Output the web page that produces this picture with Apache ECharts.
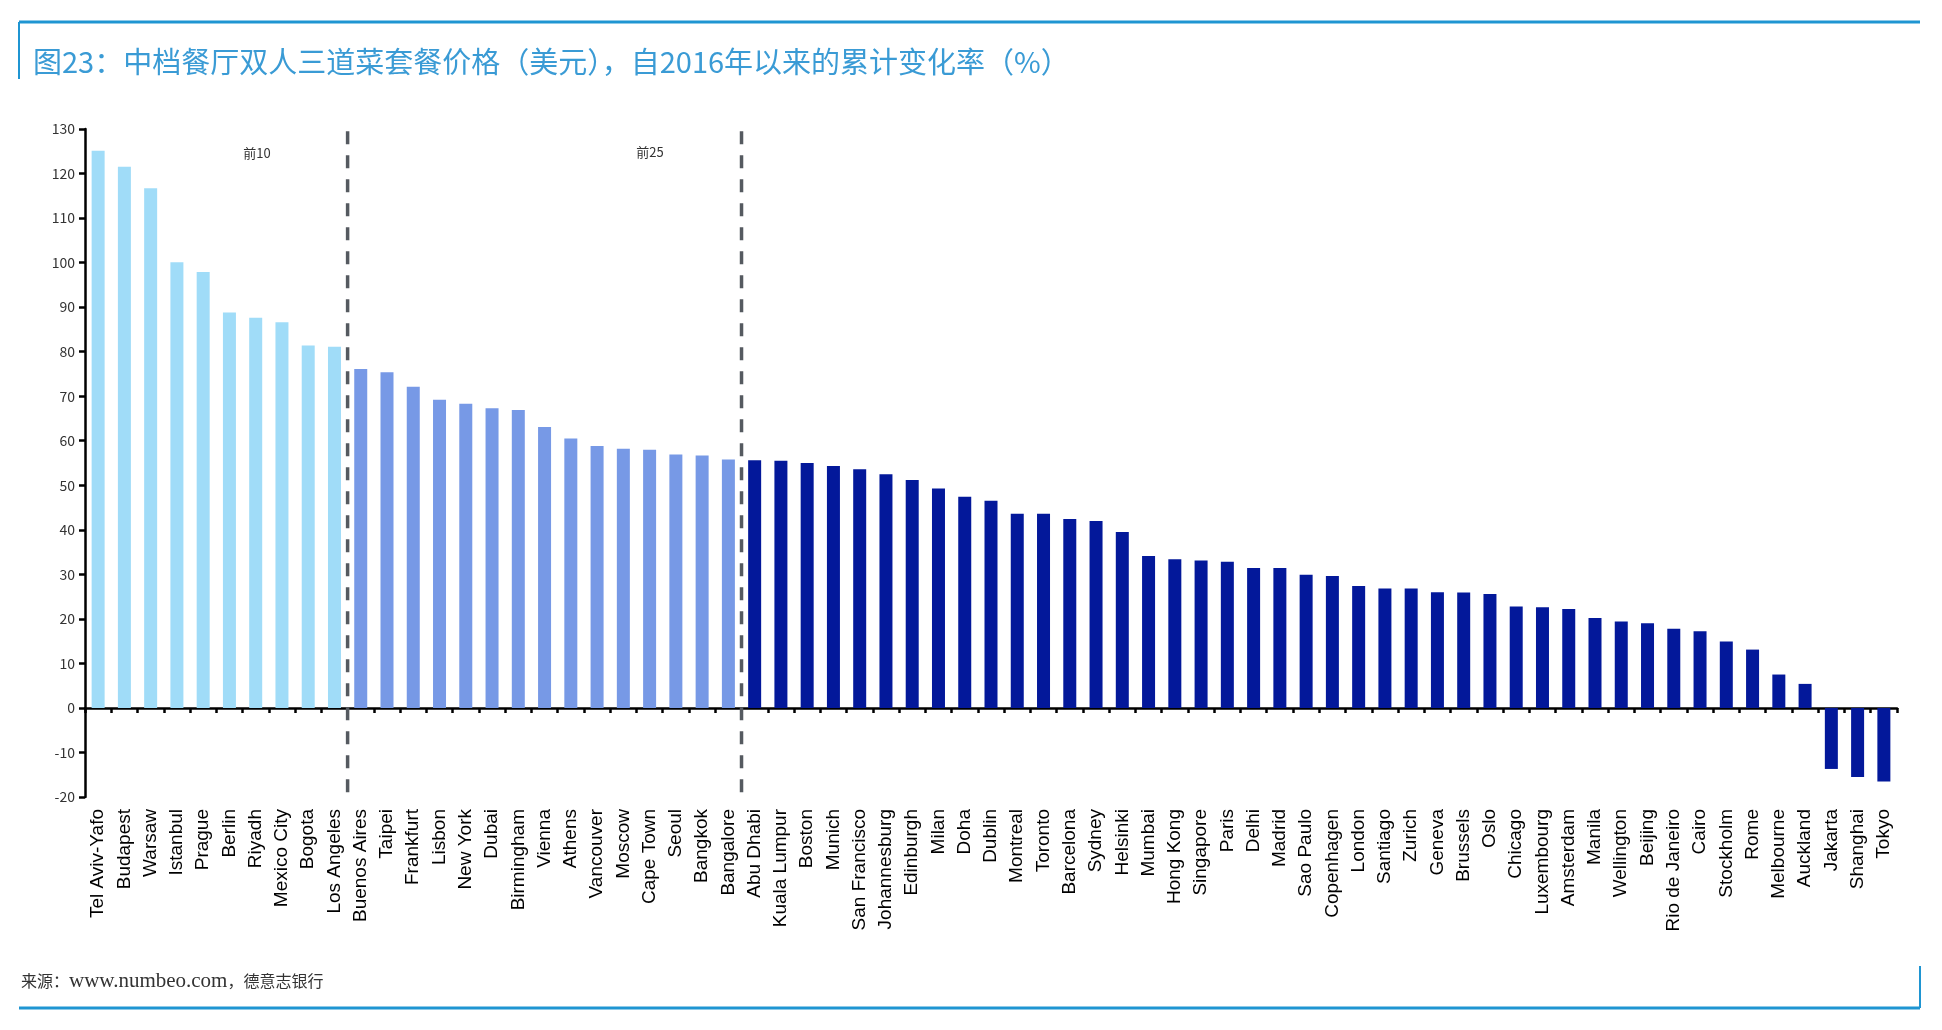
<!DOCTYPE html>
<html>
<head>
<meta charset="utf-8">
<title>中档餐厅双人三道菜套餐价格</title>
<script src="https://cdn.jsdelivr.net/npm/echarts@6/dist/echarts.min.js"></script>
<style>
  html, body { margin: 0; padding: 0; background: #fff; }
  #main { width: 1942px; height: 1030px; }
</style>
</head>
<body>
<div id="main"></div>
<script>
// 城市（按累计变化率从高到低）
var cities = ['Tel Aviv-Yafo', 'Budapest', 'Warsaw', 'Istanbul', 'Prague', 'Berlin', 'Riyadh', 'Mexico City', 'Bogota', 'Los Angeles',
    'Buenos Aires', 'Taipei', 'Frankfurt', 'Lisbon', 'New York', 'Dubai', 'Birmingham', 'Vienna', 'Athens', 'Vancouver',
    'Moscow', 'Cape Town', 'Seoul', 'Bangkok', 'Bangalore', 'Abu Dhabi', 'Kuala Lumpur', 'Boston', 'Munich', 'San Francisco',
    'Johannesburg', 'Edinburgh', 'Milan', 'Doha', 'Dublin', 'Montreal', 'Toronto', 'Barcelona', 'Sydney', 'Helsinki',
    'Mumbai', 'Hong Kong', 'Singapore', 'Paris', 'Delhi', 'Madrid', 'Sao Paulo', 'Copenhagen', 'London', 'Santiago',
    'Zurich', 'Geneva', 'Brussels', 'Oslo', 'Chicago', 'Luxembourg', 'Amsterdam', 'Manila', 'Wellington', 'Beijing',
    'Rio de Janeiro', 'Cairo', 'Stockholm', 'Rome', 'Melbourne', 'Auckland', 'Jakarta', 'Shanghai', 'Tokyo'];

// 自2016年以来的累计变化率（%）
var changes = [125.1, 121.5, 116.7, 100.1, 97.9, 88.8, 87.6, 86.6, 81.4, 81.1,
    76.1, 75.4, 72.1, 69.2, 68.3, 67.3, 66.9, 63.1, 60.5, 58.8,
    58.2, 58.0, 56.9, 56.7, 55.8, 55.6, 55.5, 55.0, 54.3, 53.6,
    52.5, 51.2, 49.3, 47.4, 46.5, 43.6, 43.6, 42.4, 42.0, 39.5,
    34.1, 33.4, 33.1, 32.8, 31.4, 31.4, 29.9, 29.6, 27.4, 26.8,
    26.8, 26.0, 25.9, 25.6, 22.8, 22.6, 22.2, 20.2, 19.4, 19.0,
    17.8, 17.2, 14.9, 13.1, 7.5, 5.4, -13.7, -15.5, -16.5];

// 分组：前10、前25、其余
var groupEnds = [10, 25];
var groupNames = ['前10', '前25'];
var groupColors = ['#a0dcf8', '#7799e6', '#03189a'];

// y轴刻度
var yMin = -20;
var yMax = 130;
var yStep = 10;

var lineBlue = '#1f95d2';

var myChart = echarts.init(document.getElementById('main'));

// 每根柱子按所在分组上色
var barData = [];
for (var i = 0; i < changes.length; i++) {
    var g = 0;
    while (g < groupEnds.length && i >= groupEnds[g]) g++;
    barData.push({ value: changes[i], itemStyle: { color: groupColors[g] } });
}

// 分组之间的虚线（从上往下画）
var dividers = [];
for (var k = 0; k < groupEnds.length; k++) {
    dividers.push({
        type: 'line',
        xAxisIndex: 2,
        yAxisIndex: 0,
        symbol: 'none',
        silent: true,
        clip: false,
        z: 5,
        lineStyle: { color: '#555a60', width: 3.5, type: [13, 11] },
        data: [[groupEnds[k], yMax - 0.5], [groupEnds[k], yMin - 1]]
    });
}

var option = {
    backgroundColor: '#fff',
    animation: false,
    grid: { left: 85, right: 45, top: 129, bottom: 233, containLabel: false },
    xAxis: [{
        type: 'category',
        data: cities,
        axisLine: { onZero: true, lineStyle: { color: '#000', width: 2.5 } },
        axisTick: { show: true, interval: 0, length: 5, lineStyle: { color: '#000', width: 2.5 } },
        axisLabel: { show: false }
    }, {
        type: 'category',
        data: cities,
        position: 'bottom',
        axisLine: { show: false, onZero: false },
        axisTick: { show: false },
        axisLabel: {
            interval: 0,
            rotate: 90,
            margin: 12,
            color: '#000',
            fontSize: 19,
            fontFamily: 'Liberation Sans, Arial, sans-serif'
        }
    }, {
        type: 'value',
        min: 0,
        max: cities.length,
        show: false
    }],
    yAxis: {
        type: 'value',
        min: yMin,
        max: yMax,
        interval: yStep,
        axisLine: { show: true, lineStyle: { color: '#000', width: 2.5 } },
        axisTick: { show: true, length: 6, lineStyle: { color: '#000', width: 2.5 } },
        splitLine: { show: false },
        axisLabel: {
            margin: 10,
            color: '#333',
            fontSize: 14,
            fontFamily: 'Noto Sans CJK SC, sans-serif'
        }
    },
    series: [{
        type: 'bar',
        name: '累计变化率',
        xAxisIndex: 0,
        barWidth: 13,
        data: barData
    }].concat(dividers),
    graphic: [
        // 上边框
        { type: 'line', shape: { x1: 19, y1: 22, x2: 1920, y2: 22 }, style: { stroke: lineBlue, lineWidth: 3 } },
        { type: 'line', shape: { x1: 19, y1: 22, x2: 19, y2: 79 }, style: { stroke: lineBlue, lineWidth: 2 } },
        // 下边框
        { type: 'line', shape: { x1: 19, y1: 1008, x2: 1920, y2: 1008 }, style: { stroke: lineBlue, lineWidth: 3 } },
        { type: 'line', shape: { x1: 1920, y1: 966, x2: 1920, y2: 1008 }, style: { stroke: lineBlue, lineWidth: 2 } },
        // 标题
        {
            type: 'text', x: 33, y: 62,
            style: {
                text: '图23：中档餐厅双人三道菜套餐价格（美元），自2016年以来的累计变化率（%）',
                fill: '#3a9bd5',
                font: '29px "Noto Sans CJK SC", sans-serif',
                verticalAlign: 'middle'
            }
        },
        // 分组标注
        {
            type: 'text', x: 257, y: 153,
            style: { text: groupNames[0], fill: '#333', font: '13px "Noto Sans CJK SC", sans-serif', align: 'center', verticalAlign: 'middle' }
        },
        {
            type: 'text', x: 650, y: 152,
            style: { text: groupNames[1], fill: '#333', font: '13px "Noto Sans CJK SC", sans-serif', align: 'center', verticalAlign: 'middle' }
        },
        // 来源
        {
            type: 'text', x: 21, y: 981,
            style: {
                text: '{cn|来源：}{en|www.numbeo.com}{cn|，德意志银行}',
                fill: '#333',
                verticalAlign: 'middle',
                rich: {
                    cn: { fontSize: 16, fontFamily: 'Noto Sans CJK SC', fill: '#333' },
                    en: { fontSize: 21, fontFamily: 'Liberation Serif', fill: '#333' }
                }
            }
        }
    ]
};

myChart.setOption(option);
</script>
</body>
</html>
